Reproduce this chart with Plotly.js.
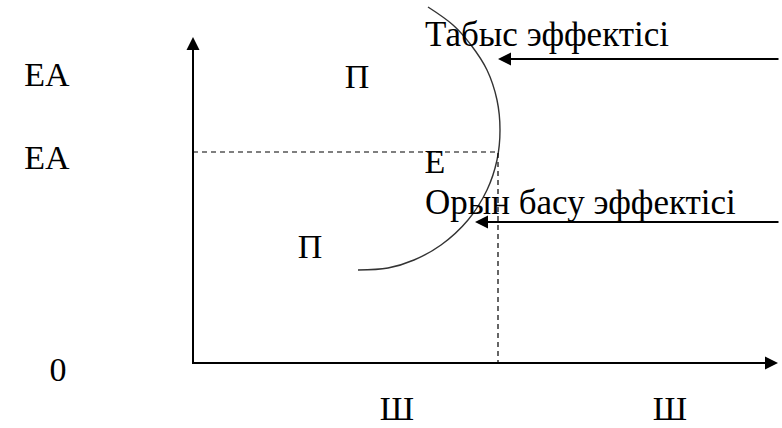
<!DOCTYPE html>
<html>
<head>
<meta charset="utf-8">
<script src="https://cdn.plot.ly/plotly-3.0.1.min.js"></script>
<style>
  html, body { margin: 0; padding: 0; background: #fff; }
  #chart { width: 782px; height: 428px; }
</style>
</head>
<body>
<div id="chart"></div>
<script>
// supply curve (origin at the axes' corner)
var curveX = [235, 260, 278, 294, 304, 307, 304, 294, 275, 248, 221, 195, 165];
var curveY = [356, 338, 318, 293, 263, 233, 203, 173, 143, 118, 103, 95, 93];

// equilibrium point E
var eqX = 305;
var eqY = 211;

// axis ends and effect arrows
var axisTopY = 326;
var axisRightX = 585;
var incomeArrow = { y: 304, from: 587, to: 305 };
var substArrow = { y: 141, from: 587, to: 282 };

// point labels
var labelText = ['ЕА', 'ЕА', '0', 'Ш', 'Ш', 'П', 'П', 'Е'];
var labelX = [-146, -146, -135, 204, 477, 164, 117, 242];
var labelY = [286, 203, -9, -48, -48, 284, 114, 199];

// effect labels (left aligned)
var effectText = ['Табыс эффектісі', 'Орын басу эффектісі'];
var effectX = [232, 232];
var effectY = [326, 158];

var serif = 'Liberation Serif, Times New Roman, serif';

var traces = [
    {
        x: curveX, y: curveY,
        mode: 'lines', type: 'scatter',
        line: { color: '#333', width: 1.4, shape: 'spline' },
        hoverinfo: 'skip'
    },
    {
        x: [0, eqX, eqX], y: [eqY, eqY, 0],
        mode: 'lines', type: 'scatter',
        line: { color: '#000', width: 1.2, dash: '5px,4px' },
        hoverinfo: 'skip'
    },
    {
        x: [0, 0, axisRightX - 8], y: [axisTopY - 8, 0, 0],
        mode: 'lines', type: 'scatter',
        line: { color: '#000', width: 2 },
        hoverinfo: 'skip'
    },
    {
        x: labelX, y: labelY, text: labelText,
        mode: 'text', type: 'scatter', textposition: 'middle center',
        textfont: { family: serif, size: 34, color: '#000' },
        hoverinfo: 'skip', cliponaxis: false
    },
    {
        x: effectX, y: effectY, text: effectText,
        mode: 'text', type: 'scatter', textposition: 'middle right',
        textfont: { family: serif, size: 35, color: '#000' },
        hoverinfo: 'skip', cliponaxis: false
    }
];

function arrow(x0, y0, x1, y1) {
    return {
        x: x1, y: y1, ax: x0, ay: y0,
        xref: 'x', yref: 'y', axref: 'x', ayref: 'y',
        text: '', showarrow: true,
        arrowhead: 2, arrowsize: 1.3, arrowwidth: 2, arrowcolor: '#000',
        standoff: 0, startstandoff: 0
    };
}

var layout = {
    width: 782, height: 428,
    margin: { l: 0, r: 0, t: 0, b: 0 },
    paper_bgcolor: '#fff', plot_bgcolor: '#fff',
    showlegend: false,
    font: { family: serif, color: '#000' },
    xaxis: { range: [-193, 589], visible: false, fixedrange: true },
    yaxis: { range: [-65, 363], visible: false, fixedrange: true },
    annotations: [
        arrow(0, axisTopY - 20, 0, axisTopY),
        arrow(axisRightX - 20, 0, axisRightX, 0),
        arrow(incomeArrow.from, incomeArrow.y, incomeArrow.to, incomeArrow.y),
        arrow(substArrow.from, substArrow.y, substArrow.to, substArrow.y)
    ]
};

Plotly.newPlot('chart', traces, layout, { displayModeBar: false });
</script>
</body>
</html>
